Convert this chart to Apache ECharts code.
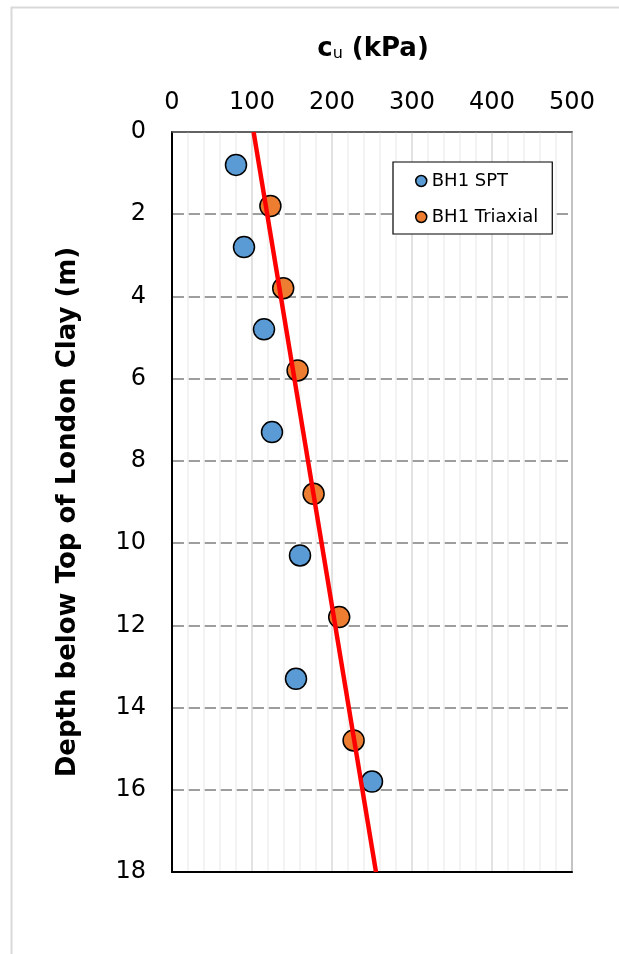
<!DOCTYPE html>
<html>
<head>
<meta charset="utf-8">
<script src="https://cdn.jsdelivr.net/npm/echarts@6/dist/echarts.min.js"></script>
<style>
html,body{margin:0;padding:0;background:#fff;}
#c{width:619px;height:954px;}
</style>
</head>
<body>
<div id="c"></div>
<script>
// Data
var sptCu     = [80, 90, 115, 125, 160, 155, 250];
var sptDepth  = [0.8, 2.8, 4.8, 7.3, 10.3, 13.3, 15.8];
var triCu     = [123, 139, 157, 177, 209, 227];
var triDepth  = [1.8, 3.8, 5.8, 8.8, 11.8, 14.8];
var trendCu   = [102, 255];
var trendDepth= [0, 18];
var yName = 'Depth below Top of London Clay (m)';

function pairs(xs, ys){ return xs.map(function(v,i){ return [v, ys[i]]; }); }

var FONT = 'DejaVu Sans';
var chart = echarts.init(document.getElementById('c'), null, {renderer:'canvas'});
chart.setOption({
  backgroundColor:'#fff',
  animation:false,
  textStyle:{fontFamily:FONT},
  title:{
    text:'{a|c}{b|u}{a| (kPa)}',
    left:368, top:44, textAlign:'center', textVerticalAlign:'middle',
    textStyle:{
      rich:{
        a:{fontFamily:FONT, fontWeight:'bold', fontSize:26, color:'#000'},
        b:{fontFamily:FONT, fontWeight:'normal', fontSize:16, color:'#000', verticalAlign:'bottom', padding:[9,0,0,0]}
      }
    }
  },
  graphic:[{
    type:'rect', left:9, top:5, z:-10, silent:true,
    shape:{width:700, height:1000},
    style:{fill:'none', stroke:'#d9d9d9', lineWidth:2}
  },{
    type:'text', x:68, y:512, rotation:Math.PI/2, silent:true,
    style:{text:yName, fontFamily:FONT, fontWeight:'bold', fontSize:26, fill:'#000', align:'center', verticalAlign:'middle'}
  }],
  grid:{left:172, right:47, top:132, bottom:82, show:true, borderColor:'#595959', borderWidth:1.5, backgroundColor:'transparent'},
  legend:{
    data:['BH1 SPT','BH1 Triaxial'],
    orient:'vertical', left:393, top:162,
    backgroundColor:'#fff', borderColor:'#000', borderWidth:1.2,
    padding:[10,14,8,22], itemGap:18, itemWidth:11, itemHeight:11,
    icon:'circle',
    itemStyle:{borderColor:'#000', borderWidth:1.5},
    textStyle:{fontFamily:FONT, fontSize:18, color:'#000'}
  },
  xAxis:[{
    type:'value', position:'top', min:0, max:500, interval:100,
    axisLine:{show:true, onZero:false, lineStyle:{color:'#595959', width:1.5}},
    axisTick:{show:false},
    axisLabel:{fontSize:24, color:'#000', margin:17, fontFamily:FONT},
    splitLine:{show:true, lineStyle:{color:'#d9d9d9', width:1.5}},
    minorTick:{show:false, splitNumber:5},
    minorSplitLine:{show:true, lineStyle:{color:'#efefef', width:1.5}}
  },{
    type:'value', position:'bottom', min:0, max:500, interval:100,
    axisLine:{show:true, onZero:false, lineStyle:{color:'#000', width:2}},
    axisTick:{show:false}, axisLabel:{show:false}, splitLine:{show:false}
  }],
  yAxis:{
    type:'value', inverse:true, min:0, max:18, interval:2,
    axisLine:{show:true, onZero:false, lineStyle:{color:'#000', width:2}},
    axisTick:{show:false},
    axisLabel:{fontSize:24, color:'#000', margin:26, fontFamily:FONT},
    splitLine:{show:true, lineStyle:{color:'#7f7f7f', width:1.5, type:[12,4]}}
  },
  series:[
    {
      name:'BH1 SPT', type:'scatter', symbol:'circle', symbolSize:21, z:3,
      itemStyle:{color:'#5B9BD5', borderColor:'#000', borderWidth:1.5, opacity:1},
      data:pairs(sptCu, sptDepth)
    },
    {
      name:'BH1 Triaxial', type:'scatter', symbol:'circle', symbolSize:21, z:3,
      itemStyle:{color:'#ED7D31', borderColor:'#000', borderWidth:1.5, opacity:1},
      data:pairs(triCu, triDepth)
    },
    {
      name:'Trend', type:'line', symbol:'none', z:5, clip:false,
      lineStyle:{color:'#FF0000', width:4.5},
      data:pairs(trendCu, trendDepth)
    }
  ]
});
</script>
</body>
</html>
